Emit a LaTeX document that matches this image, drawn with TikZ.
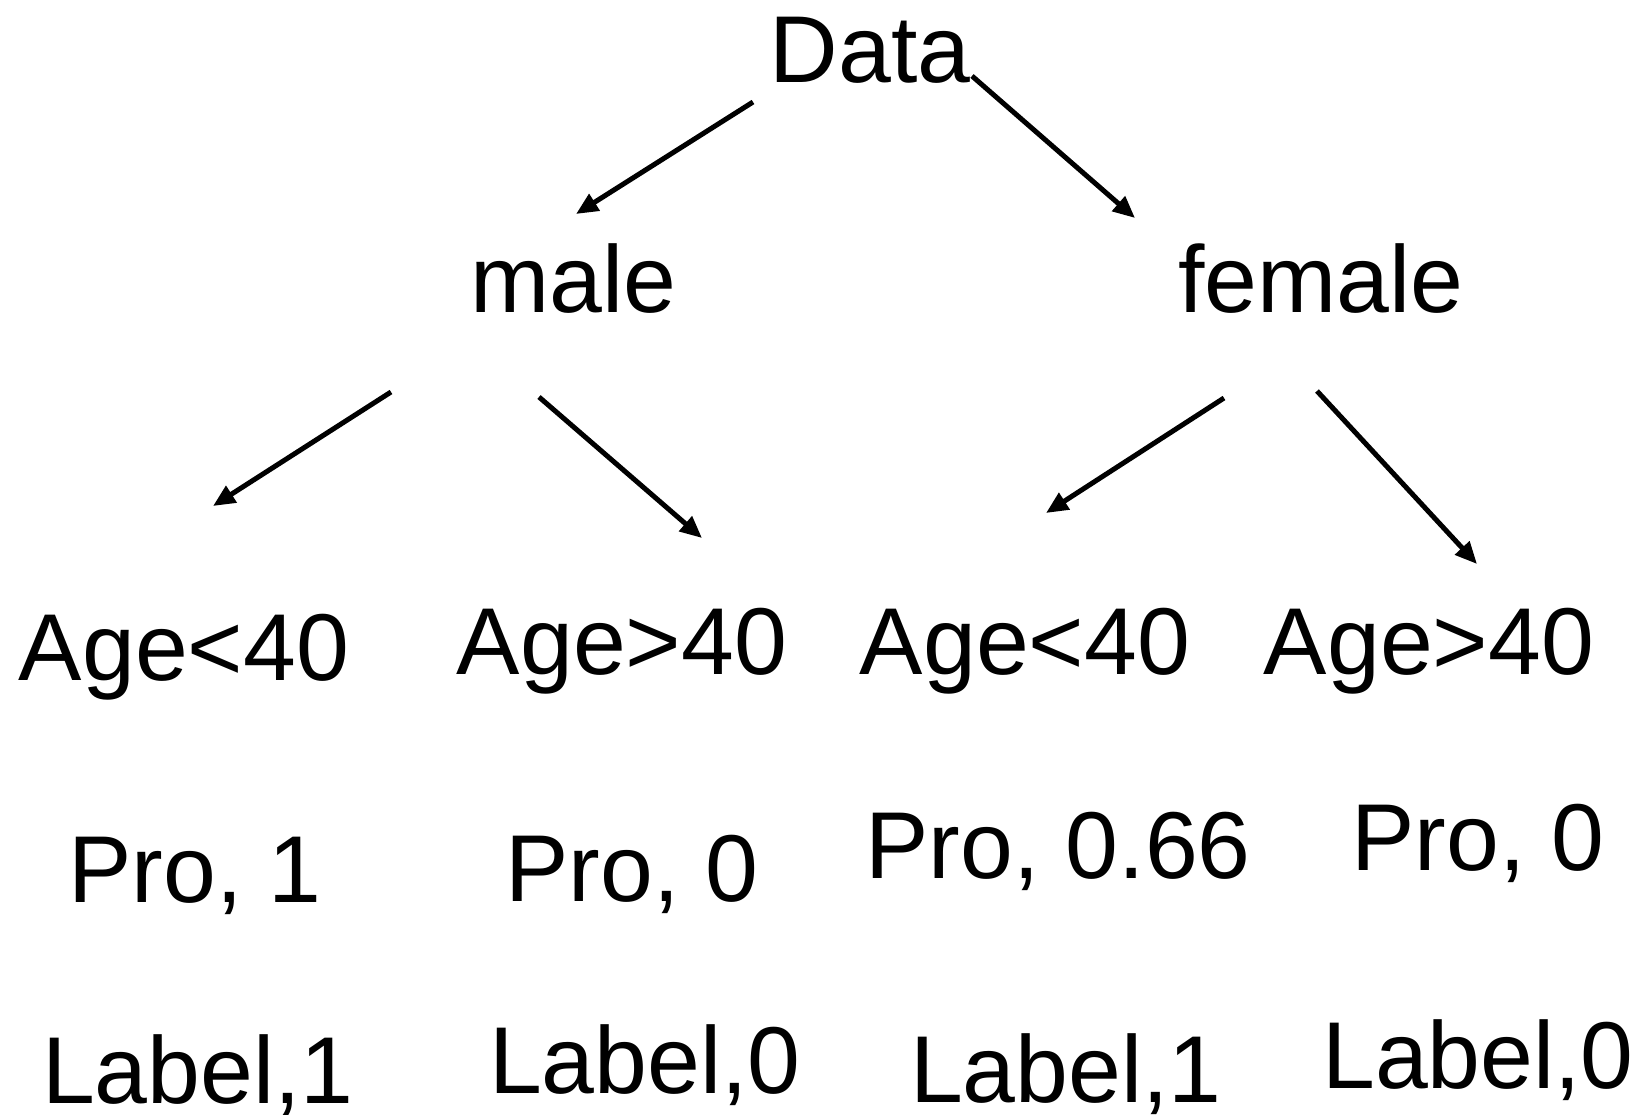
\documentclass[tikz,border=0pt]{standalone}
\usepackage{fontspec}
\setmainfont{Liberation Sans}
\usetikzlibrary{arrows.meta}
\begin{document}
\begin{tikzpicture}[x=1pt,y=-1pt,
  lbl/.style={anchor=base,inner sep=0pt,font=\fontsize{95}{110}\selectfont},
  arr/.style={line width=5pt,-{Triangle[length=22pt,width=19pt]}}]
\useasboundingbox (0,0) rectangle (1648,1114);
\node[lbl] (data) at (870,82) {Data};
\node[lbl] (male) at (573,312) {male};
\node[lbl] (female) at (1321,312) {female};
\node[lbl] (a1) at (184,680) {Age<40};
\node[lbl] (a2) at (622,674) {Age>40};
\node[lbl] (a3) at (1025,674) {Age<40};
\node[lbl] (a4) at (1429,674) {Age>40};
\node[lbl] (p1) at (195,902) {Pro, 1};
\node[lbl] (p2) at (632,901) {Pro, 0};
\node[lbl] (p3) at (1058,878) {Pro, 0.66};
\node[lbl] (p4) at (1478,870) {Pro, 0};
\node[lbl] (l1) at (198,1103) {Label,1};
\node[lbl] (l2) at (645,1093) {Label,0};
\node[lbl] (l3) at (1066,1102) {Label,1};
\node[lbl] (l4) at (1478,1088) {Label,0};
\coordinate (s1) at (753,102);  \coordinate (e1) at (576,214);
\coordinate (s2) at (972,76);   \coordinate (e2) at (1135,218);
\coordinate (s3) at (391,392);  \coordinate (e3) at (213,506);
\coordinate (s4) at (539,397);  \coordinate (e4) at (702,538);
\coordinate (s5) at (1224,398); \coordinate (e5) at (1046,513);
\coordinate (s6) at (1317,391); \coordinate (e6) at (1477,564);
\draw[arr] (s1) -- (e1);
\draw[arr] (s2) -- (e2);
\draw[arr] (s3) -- (e3);
\draw[arr] (s4) -- (e4);
\draw[arr] (s5) -- (e5);
\draw[arr] (s6) -- (e6);
\end{tikzpicture}
\end{document}
